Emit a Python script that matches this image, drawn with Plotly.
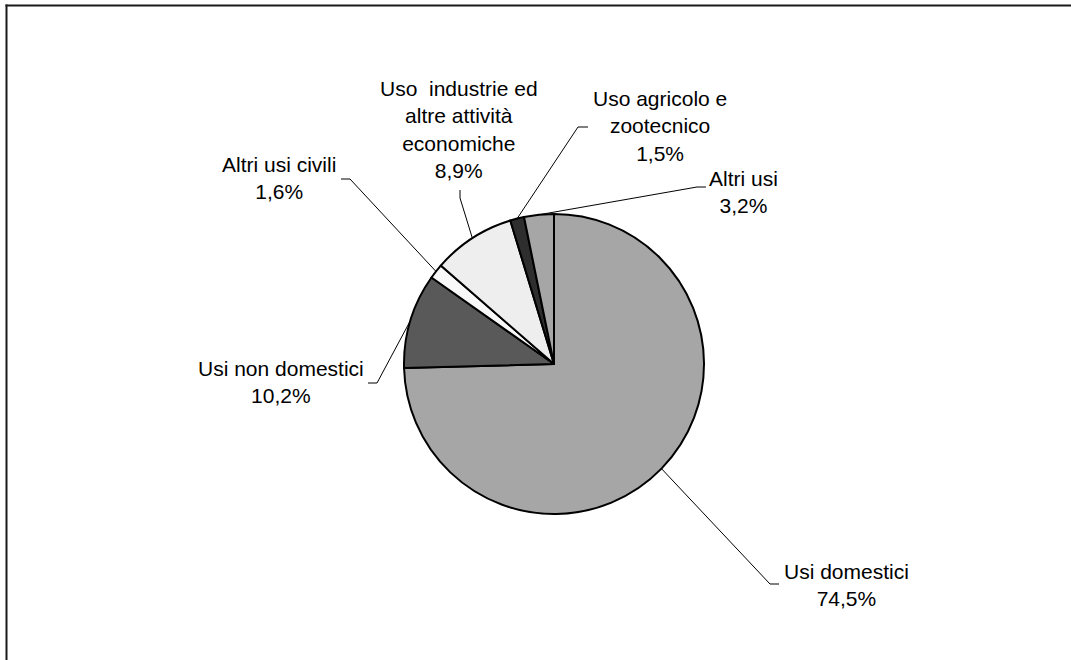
import math
import plotly.graph_objects as go

# ---- data ----
categories = ["Usi domestici", "Usi non domestici", "Altri usi civili",
              "Uso  industrie ed<br>altre attività<br>economiche",
              "Uso agricolo e<br>zootecnico", "Altri usi"]
values = [74.5, 10.2, 1.6, 8.9, 1.5, 3.2]
value_labels = ["74,5%", "10,2%", "1,6%", "8,9%", "1,5%", "3,2%"]

# ---- styling / layout ----
W, H = 1071, 660
colors = ["#a6a6a6", "#595959", "#f8f8f8", "#eeeeee", "#2e2e2e", "#a6a6a6"]
CX, CY, R = 554, 364, 150  # pie centre / radius in pixels

# label centres (pixels) and leader-line elbows/ends (pixels)
label_pos = [(846, 585), (281, 382), (279, 178), (459, 129), (660, 126), (743, 192)]
elbows = [(770, 584), (377, 383), (350, 179), (460, 198), (578, 127), (697, 187)]
ends = [(779, 584), (368, 383), (341, 179), (460, 190), (588, 127), (706, 187)]

FONT = "Liberation Sans, Arial, sans-serif"


def px(x):
    return x / W


def py(y):
    return 1 - y / H


fig = go.Figure()
fig.add_trace(go.Pie(
    labels=[c.replace("<br>", " ") for c in categories],
    values=values,
    sort=False,
    direction="clockwise",
    rotation=0,
    textinfo="none",
    hoverinfo="label+percent",
    marker=dict(colors=colors, line=dict(color="#000000", width=2)),
    domain=dict(x=[px(CX - R), px(CX + R)], y=[py(CY + R), py(CY - R)]),
    showlegend=False,
))

shapes = []
annotations = []
total = sum(values)
cum = 0.0
for i, v in enumerate(values):
    mid = (cum + v / 2) / total * 2 * math.pi
    cum += v
    sx = CX + R * math.sin(mid)
    sy = CY - R * math.cos(mid)
    ex, ey = elbows[i]
    fx, fy = ends[i]
    path = f"M {px(sx)} {py(sy)} L {px(ex)} {py(ey)} L {px(fx)} {py(fy)}"
    shapes.append(dict(type="path", xref="paper", yref="paper", path=path,
                       line=dict(color="#000000", width=1)))
    lx, ly = label_pos[i]
    annotations.append(dict(
        x=px(lx), y=py(ly), xref="paper", yref="paper",
        text=f"{categories[i]}<br>{value_labels[i]}",
        showarrow=False, xanchor="center", yanchor="middle", align="center",
        font=dict(family=FONT, size=21, color="#000000"),
    ))

# outer frame: only left and top edges are inside the picture
shapes.append(dict(type="line", xref="paper", yref="paper",
                   x0=px(6.5), x1=px(6.5), y0=0, y1=py(4.5),
                   line=dict(color="#1a1a1a", width=2)))
shapes.append(dict(type="line", xref="paper", yref="paper",
                   x0=px(5.5), x1=1, y0=py(5.5), y1=py(5.5),
                   line=dict(color="#1a1a1a", width=2)))

fig.update_layout(
    width=W, height=H,
    margin=dict(l=0, r=0, t=0, b=0),
    paper_bgcolor="#ffffff",
    plot_bgcolor="#ffffff",
    shapes=shapes,
    annotations=annotations,
    font=dict(family=FONT),
)

fig.write_html(
    "out.html",
    config={"displayModeBar": False},
    post_script="document.body.style.margin='0';document.body.style.overflow='hidden';",
)
